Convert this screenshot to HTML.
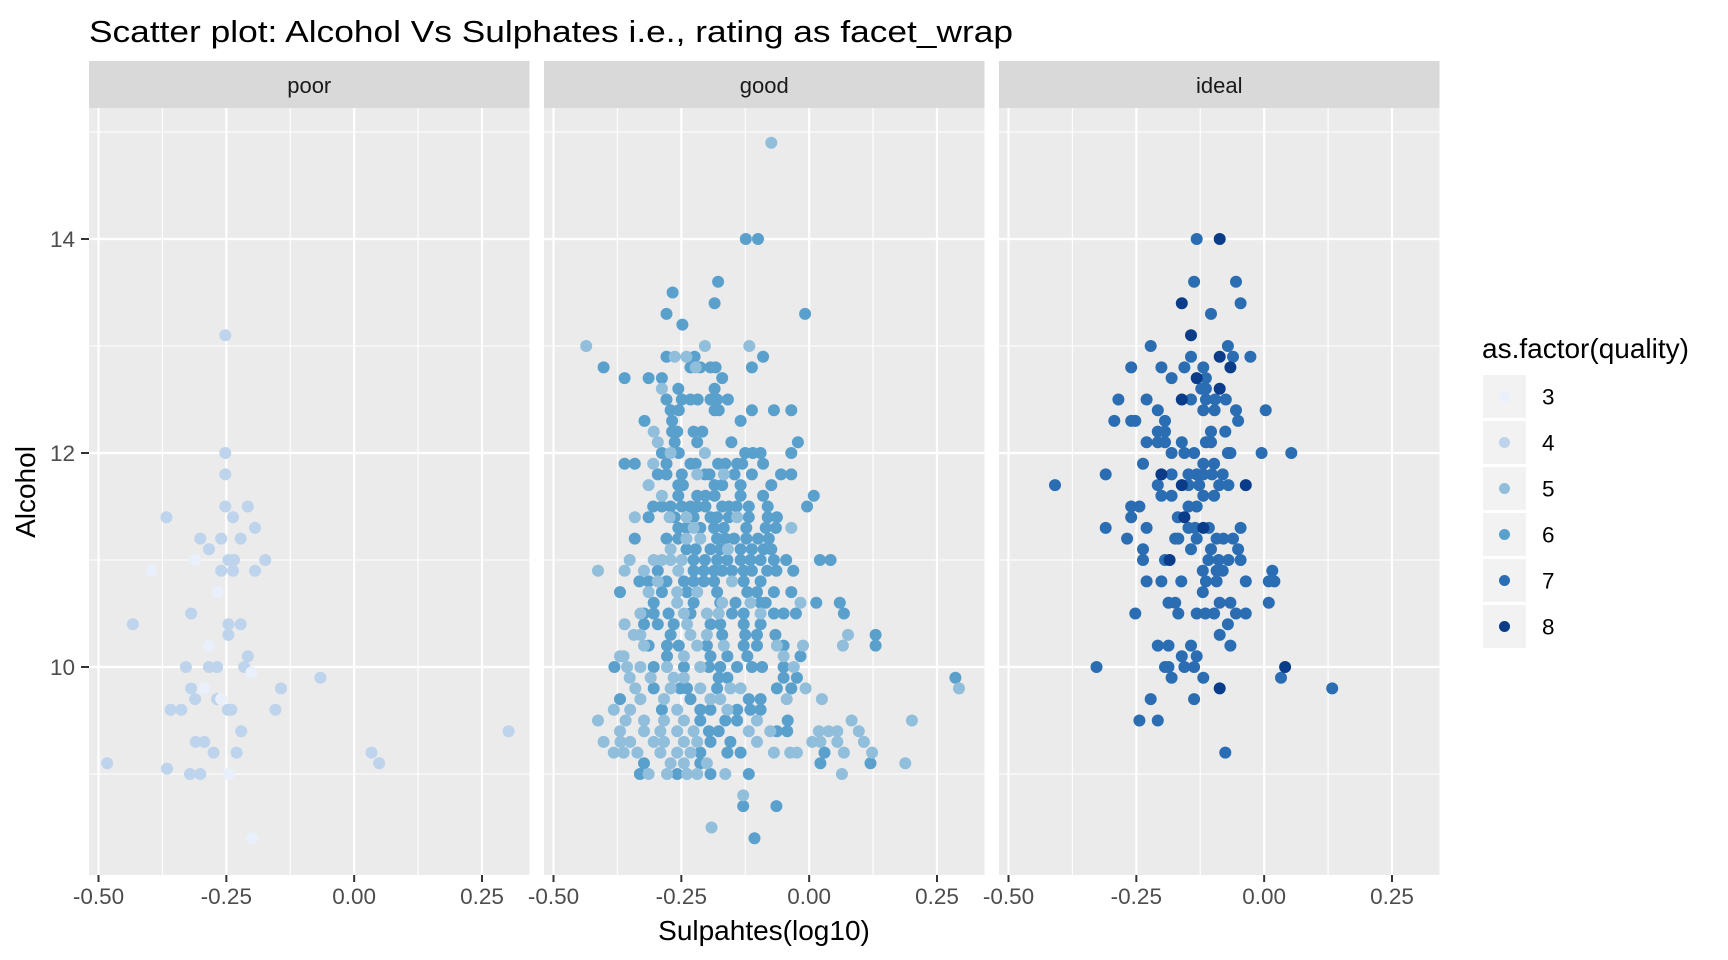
<!DOCTYPE html>
<html>
<head>
<meta charset="utf-8">
<style>
  html,body{margin:0;padding:0;background:#fff;}
  svg{display:block;font-family:"Liberation Sans",Arial,sans-serif;}
</style>
</head>
<body>
<svg id="chart" width="1728" height="960" viewBox="0 0 1728 960" xmlns="http://www.w3.org/2000/svg">
  <text x="89" y="42" font-size="31" fill="#000" textLength="924" lengthAdjust="spacingAndGlyphs">Scatter plot: Alcohol Vs Sulphates i.e., rating as facet_wrap</text>
  <g id="panels"></g>
  <text x="764" y="940" font-size="28" text-anchor="middle" fill="#000">Sulpahtes(log10)</text>
  <text x="0" y="0" font-size="28" text-anchor="middle" fill="#000" transform="translate(35,492) rotate(-90)">Alcohol</text>
  <g id="legend">
    <text x="1482" y="358" font-size="28" fill="#000">as.factor(quality)</text>
  </g>
</svg>
<script>
// ---- data ----
const facetNames = ["poor", "good", "ideal"];
const qualityLevels = ["3", "4", "5", "6", "7", "8"];
const xTickValues = [-0.5, -0.25, 0, 0.25];
const xTickLabels = ["-0.50", "-0.25", "0.00", "0.25"];
const xMinorValues = [-0.375, -0.125, 0.125];
const yTickValues = [10, 12, 14];
const yTickLabels = ["10", "12", "14"];
const yMinorValues = [9, 11, 13, 15];

const poorQ3 = [[-0.311,11.0],[-0.397,10.9],[-0.268,10.7],[-0.284,10.2],[-0.201,9.95],[-0.293,9.8],[-0.260,9.7],[-0.245,9.0],[-0.200,8.4]];
const poorQ4 = [[-0.252,13.1],[-0.252,12.0],[-0.252,11.8],[-0.252,11.5],[-0.208,11.5],[-0.367,11.4],[-0.237,11.4],[-0.194,11.3],[-0.301,11.2],[-0.260,11.2],[-0.222,11.2],[-0.284,11.1],[-0.246,11.0],[-0.235,11.0],[-0.174,11.0],[-0.260,10.9],[-0.237,10.9],[-0.194,10.9],[-0.319,10.5],[-0.433,10.4],[-0.246,10.4],[-0.222,10.4],[-0.246,10.3],[-0.208,10.1],[-0.329,10.0],[-0.284,10.0],[-0.268,10.0],[-0.215,10.0],[-0.066,9.9],[-0.319,9.8],[-0.143,9.8],[-0.311,9.7],[-0.268,9.7],[-0.247,9.6],[-0.240,9.6],[-0.359,9.6],[-0.338,9.6],[-0.154,9.6],[-0.221,9.4],[-0.310,9.3],[-0.293,9.3],[-0.275,9.2],[-0.230,9.2],[-0.483,9.1],[-0.366,9.05],[-0.321,9.0],[-0.301,9.0],[0.034,9.2],[0.049,9.1],[0.302,9.4]];

const goodQ6 = [[-0.124,14.0],[-0.100,14.0],[-0.178,13.6],[-0.267,13.5],[-0.185,13.4],[-0.279,13.3],[-0.008,13.3],[-0.248,13.2],
[-0.279,12.9],[-0.224,12.9],[-0.090,12.9],
[-0.402,12.8],[-0.232,12.8],[-0.213,12.8],[-0.193,12.8],[-0.183,12.8],[-0.112,12.8],
[-0.361,12.7],[-0.314,12.7],[-0.288,12.7],[-0.170,12.7],
[-0.256,12.6],[-0.185,12.6],
[-0.279,12.5],[-0.249,12.5],[-0.232,12.5],[-0.218,12.5],[-0.193,12.5],[-0.180,12.5],[-0.159,12.5],
[-0.271,12.4],[-0.255,12.4],[-0.185,12.4],[-0.177,12.4],[-0.112,12.4],[-0.069,12.4],[-0.035,12.4],
[-0.322,12.3],[-0.268,12.3],[-0.134,12.3],
[-0.268,12.2],[-0.258,12.2],[-0.226,12.2],[-0.209,12.2],
[-0.263,12.1],[-0.219,12.1],[-0.152,12.1],[-0.022,12.1],
[-0.288,12.0],[-0.255,12.0],[-0.125,12.0],[-0.110,12.0],[-0.095,12.0],[-0.035,12.0],
[-0.361,11.9],[-0.341,11.9],[-0.279,11.9],[-0.232,11.9],[-0.222,11.9],[-0.178,11.9],[-0.164,11.9],[-0.141,11.9],[-0.131,11.9],[-0.090,11.9],
[-0.296,11.8],[-0.279,11.8],[-0.249,11.8],[-0.204,11.8],[-0.195,11.8],[-0.146,11.8],[-0.112,11.8],[-0.055,11.8],[-0.035,11.8],
[-0.256,11.7],[-0.247,11.7],[-0.185,11.7],[-0.170,11.7],[-0.134,11.7],[-0.074,11.7],
[-0.256,11.6],[-0.219,11.6],[-0.203,11.6],[-0.185,11.6],[-0.134,11.6],[-0.090,11.6],[0.009,11.6],
[-0.305,11.5],[-0.288,11.5],[-0.271,11.5],[-0.249,11.5],[-0.232,11.5],[-0.219,11.5],[-0.203,11.5],[-0.170,11.5],[-0.157,11.5],[-0.142,11.5],[-0.118,11.5],[-0.081,11.5],[-0.004,11.5],
[-0.314,11.4],[-0.263,11.4],[-0.226,11.4],[-0.193,11.4],[-0.180,11.4],[-0.157,11.4],[-0.118,11.4],[-0.081,11.4],[-0.063,11.4],
[-0.256,11.3],[-0.240,11.3],[-0.213,11.3],[-0.186,11.3],[-0.167,11.3],[-0.123,11.3],[-0.085,11.3],[-0.065,11.3],
[-0.341,11.2],[-0.279,11.2],[-0.256,11.2],[-0.180,11.2],[-0.164,11.2],[-0.147,11.2],[-0.123,11.2],[-0.100,11.2],[-0.079,11.2],
[-0.240,11.1],[-0.222,11.1],[-0.193,11.1],[-0.174,11.1],[-0.134,11.1],[-0.112,11.1],[-0.089,11.1],[-0.074,11.1],
[-0.226,11.0],[-0.204,11.0],[-0.180,11.0],[-0.160,11.0],[-0.134,11.0],[-0.115,11.0],[-0.095,11.0],[-0.069,11.0],[-0.045,11.0],[0.021,11.0],[0.042,11.0],
[-0.296,10.9],[-0.226,10.9],[-0.206,10.9],[-0.186,10.9],[-0.170,10.9],[-0.151,10.9],[-0.128,10.9],[-0.112,10.9],[-0.082,10.9],[-0.064,10.9],[-0.031,10.9],
[-0.332,10.8],[-0.314,10.8],[-0.279,10.8],[-0.245,10.8],[-0.226,10.8],[-0.206,10.8],[-0.186,10.8],[-0.128,10.8],[-0.095,10.8],
[-0.370,10.7],[-0.288,10.7],[-0.239,10.7],[-0.180,10.7],[-0.121,10.7],[-0.102,10.7],[-0.069,10.7],[-0.035,10.7],
[-0.304,10.6],[-0.226,10.6],[-0.174,10.6],[-0.144,10.6],[-0.095,10.6],[-0.085,10.6],[0.014,10.6],[0.060,10.6],
[-0.323,10.5],[-0.304,10.5],[-0.275,10.5],[-0.232,10.5],[-0.151,10.5],[-0.128,10.5],[-0.069,10.5],[-0.050,10.5],[-0.026,10.5],[0.068,10.5],
[-0.323,10.4],[-0.296,10.4],[-0.265,10.4],[-0.193,10.4],[-0.174,10.4],[-0.128,10.4],[-0.095,10.4],
[-0.271,10.3],[-0.170,10.3],[-0.125,10.3],[-0.102,10.3],[-0.066,10.3],[0.130,10.3],
[-0.314,10.2],[-0.278,10.2],[-0.255,10.2],[-0.200,10.2],[-0.128,10.2],[-0.102,10.2],[-0.050,10.2],[0.130,10.2],
[-0.278,10.1],[-0.193,10.1],[-0.160,10.1],[-0.121,10.1],[-0.017,10.1],
[-0.381,10.0],[-0.304,10.0],[-0.245,10.0],[-0.196,10.0],[-0.174,10.0],[-0.141,10.0],[-0.112,10.0],[-0.092,10.0],[-0.050,10.0],
[-0.177,9.9],[-0.160,9.9],[-0.050,9.9],[-0.024,9.9],[0.286,9.9],
[-0.304,9.8],[-0.252,9.8],[-0.239,9.8],[-0.180,9.8],[-0.063,9.8],[-0.035,9.8],
[-0.370,9.7],[-0.232,9.7],[-0.118,9.7],[-0.095,9.7],
[-0.288,9.6],[-0.213,9.6],[-0.193,9.6],[-0.141,9.6],[-0.115,9.6],[-0.095,9.6],
[-0.213,9.5],[-0.164,9.5],[-0.141,9.5],[-0.042,9.5],
[-0.196,9.4],[-0.177,9.4],[-0.063,9.4],[-0.043,9.4],
[-0.193,9.3],[-0.154,9.3],
[-0.213,9.2],[-0.160,9.2],[-0.134,9.2],[0.030,9.2],
[-0.323,9.1],[-0.213,9.1],[0.022,9.1],[0.120,9.1],
[-0.331,9.0],[-0.258,9.0],[-0.193,9.0],[-0.118,9.0],
[-0.129,8.7],[-0.064,8.7],[-0.107,8.4]];

const goodQ5 = [[-0.074,14.9],
[-0.436,13.0],[-0.204,13.0],[-0.117,13.0],
[-0.263,12.9],[-0.240,12.9],[-0.222,12.8],[-0.288,12.6],[-0.304,12.2],[-0.296,12.1],[-0.271,12.0],[-0.204,12.0],[-0.305,11.9],
[-0.219,11.8],[-0.167,11.8],[-0.314,11.7],[-0.288,11.6],[-0.341,11.4],[-0.273,11.4],[-0.240,11.4],[-0.141,11.4],
[-0.226,11.3],[-0.035,11.3],[-0.240,11.2],[-0.213,11.2],[-0.271,11.1],[-0.159,11.1],
[-0.351,11.0],[-0.304,11.0],[-0.288,11.0],[-0.271,11.0],[-0.249,11.0],
[-0.413,10.9],[-0.361,10.9],[-0.323,10.9],[-0.256,10.9],[-0.296,10.8],[-0.151,10.8],
[-0.314,10.7],[-0.258,10.7],[-0.219,10.7],
[-0.258,10.6],[-0.170,10.6],[-0.115,10.6],[-0.017,10.6],
[-0.330,10.5],[-0.245,10.5],[-0.200,10.5],[-0.177,10.5],[-0.095,10.5],
[-0.361,10.4],[-0.239,10.4],
[-0.343,10.3],[-0.330,10.3],[-0.232,10.3],[-0.200,10.3],[0.076,10.3],
[-0.323,10.2],[-0.219,10.2],[-0.167,10.2],[-0.063,10.2],[-0.012,10.2],[0.066,10.2],
[-0.370,10.1],[-0.363,10.1],[-0.245,10.1],[-0.050,10.1],
[-0.356,10.0],[-0.330,10.0],[-0.278,10.0],[-0.213,10.0],[-0.030,10.0],
[-0.351,9.9],[-0.310,9.9],[-0.265,9.9],[-0.245,9.9],
[-0.340,9.8],[-0.271,9.8],[-0.213,9.8],[-0.154,9.8],[-0.134,9.8],[-0.007,9.8],[0.293,9.8],
[-0.330,9.7],[-0.284,9.7],[-0.193,9.7],[-0.174,9.7],[-0.044,9.7],[0.025,9.7],
[-0.382,9.6],[-0.350,9.6],[-0.258,9.6],[-0.160,9.6],
[-0.413,9.5],[-0.359,9.5],[-0.323,9.5],[-0.284,9.5],[-0.245,9.5],[-0.102,9.5],[0.083,9.5],[0.201,9.5],
[-0.370,9.4],[-0.323,9.4],[-0.291,9.4],[-0.258,9.4],[-0.226,9.4],[-0.118,9.4],[-0.076,9.4],[0.019,9.4],[0.038,9.4],[0.055,9.4],[0.097,9.4],
[-0.402,9.3],[-0.369,9.3],[-0.350,9.3],[-0.304,9.3],[-0.284,9.3],[-0.245,9.3],[-0.219,9.3],[-0.102,9.3],[0.006,9.3],[0.022,9.3],[0.055,9.3],[0.107,9.3],
[-0.382,9.2],[-0.363,9.2],[-0.336,9.2],[-0.291,9.2],[-0.258,9.2],[-0.232,9.2],[-0.069,9.2],[-0.037,9.2],[-0.024,9.2],[0.068,9.2],[0.123,9.2],
[-0.271,9.1],[-0.245,9.1],[-0.200,9.1],[0.188,9.1],
[-0.314,9.0],[-0.278,9.0],[-0.239,9.0],[-0.219,9.0],[-0.164,9.0],[0.064,9.0],
[-0.129,8.8],[-0.191,8.5]];

const idealQ7 = [[-0.132,14.0],[-0.137,13.6],[-0.055,13.6],[-0.046,13.4],[-0.104,13.3],
[-0.222,13.0],[-0.071,13.0],
[-0.143,12.9],[-0.061,12.9],[-0.027,12.9],
[-0.260,12.8],[-0.201,12.8],[-0.156,12.8],[-0.119,12.8],
[-0.181,12.7],[-0.114,12.7],
[-0.123,12.6],[-0.114,12.6],
[-0.285,12.5],[-0.230,12.5],[-0.143,12.5],[-0.114,12.5],[-0.096,12.5],[-0.075,12.5],
[-0.208,12.4],[-0.119,12.4],[-0.097,12.4],[-0.055,12.4],[0.003,12.4],
[-0.293,12.3],[-0.260,12.3],[-0.252,12.3],[-0.194,12.3],[-0.051,12.3],
[-0.208,12.2],[-0.194,12.2],[-0.104,12.2],[-0.076,12.2],
[-0.230,12.1],[-0.208,12.1],[-0.194,12.1],[-0.161,12.1],[-0.114,12.1],[-0.104,12.1],
[-0.181,12.0],[-0.156,12.0],[-0.137,12.0],[-0.071,12.0],[-0.066,12.0],[-0.005,12.0],[0.053,12.0],
[-0.237,11.9],[-0.119,11.9],[-0.098,11.9],
[-0.310,11.8],[-0.181,11.8],[-0.148,11.8],[-0.132,11.8],[-0.119,11.8],[-0.102,11.8],[-0.081,11.8],
[-0.409,11.7],[-0.208,11.7],[-0.148,11.7],[-0.127,11.7],[-0.088,11.7],[-0.070,11.7],
[-0.201,11.6],[-0.181,11.6],[-0.119,11.6],[-0.098,11.6],
[-0.260,11.5],[-0.244,11.5],[-0.148,11.5],[-0.132,11.5],
[-0.260,11.4],[-0.169,11.4],
[-0.310,11.3],[-0.230,11.3],[-0.148,11.3],[-0.135,11.3],[-0.108,11.3],[-0.046,11.3],
[-0.268,11.2],[-0.174,11.2],[-0.168,11.2],[-0.132,11.2],[-0.093,11.2],[-0.080,11.2],[-0.061,11.2],
[-0.237,11.1],[-0.143,11.1],[-0.104,11.1],[-0.051,11.1],
[-0.237,11.0],[-0.194,11.0],[-0.109,11.0],[-0.089,11.0],[-0.070,11.0],[-0.046,11.0],
[-0.120,10.9],[-0.093,10.9],[-0.081,10.9],[0.016,10.9],
[-0.230,10.8],[-0.201,10.8],[-0.162,10.8],[-0.114,10.8],[-0.093,10.8],[-0.036,10.8],[0.009,10.8],[0.020,10.8],
[-0.120,10.7],
[-0.187,10.6],[-0.174,10.6],[-0.087,10.6],[-0.066,10.6],[0.009,10.6],
[-0.252,10.5],[-0.168,10.5],[-0.132,10.5],[-0.115,10.5],[-0.098,10.5],[-0.055,10.5],[-0.036,10.5],
[-0.071,10.4],[-0.087,10.3],
[-0.208,10.2],[-0.187,10.2],[-0.143,10.2],[-0.066,10.2],
[-0.161,10.1],[-0.132,10.1],
[-0.328,10.0],[-0.194,10.0],[-0.187,10.0],[-0.156,10.0],[-0.137,10.0],
[-0.181,9.9],[-0.119,9.9],[0.033,9.9],
[0.133,9.8],[-0.222,9.7],[-0.137,9.7],
[-0.244,9.5],[-0.208,9.5],[-0.076,9.2]];

const idealQ8 = [[-0.087,14.0],[-0.161,13.4],[-0.143,13.1],[-0.087,12.9],[-0.066,12.8],[-0.132,12.7],[-0.087,12.6],[-0.161,12.5],
[-0.201,11.8],[-0.161,11.7],[-0.036,11.7],[-0.156,11.4],[-0.119,11.3],[-0.185,11.0],[0.041,10.0],[-0.087,9.8]];

// ---- styling (not data) ----
const qualityColors = {"3":"#eaf0fb","4":"#bed3ec","5":"#91bedb","6":"#5aa0cd","7":"#2a6db2","8":"#0b3c8a"};
const panelLefts = [89, 544, 999];
const panelW = 440.5, panelTop = 108, panelBottom = 875, stripTop = 61;
const xMin = -0.5186, pxPerX = 511.3;
const y0 = 667, pxPerY = 107;

const NS = "http://www.w3.org/2000/svg";
function mk(tag, attrs, parent) {
  const el = document.createElementNS(NS, tag);
  for (const k in attrs) el.setAttribute(k, attrs[k]);
  parent.appendChild(el);
  return el;
}
function xScale(panel, v) { return panelLefts[panel] + (v - xMin) * pxPerX; }
function yScale(v) { return y0 - (v - 10) * pxPerY; }

const panelsG = document.getElementById('panels');
const panelSeries = [
  [[poorQ4, "4"], [poorQ3, "3"]],
  [[goodQ6, "6"], [goodQ5, "5"]],
  [[idealQ7, "7"], [idealQ8, "8"]]
];

facetNames.forEach((name, p) => {
  const L = panelLefts[p];
  const g = mk('g', {}, panelsG);
  
  
  const bg = mk('rect', {x: L, y: panelTop, width: panelW, height: panelBottom - panelTop, fill: '#ebebeb'}, g);
  
  
  const clipId = 'clip' + p;
  const cp = mk('clipPath', {id: clipId}, g);
  mk('rect', {x: L, y: panelTop, width: panelW, height: panelBottom - panelTop}, cp);
  const grid = mk('g', {'clip-path': 'url(#' + clipId + ')'}, g);
  
  
  yMinorValues.forEach(v => {
    const ln = mk('line', {x1: L, x2: L + panelW, y1: yScale(v), y2: yScale(v), stroke: '#fff', 'stroke-width': 1.1}, grid);
    
    
  });
  xMinorValues.forEach(v => {
    const ln = mk('line', {x1: xScale(p, v), x2: xScale(p, v), y1: panelTop, y2: panelBottom, stroke: '#fff', 'stroke-width': 1.1}, grid);
    
    
  });
  yTickValues.forEach(v => {
    const ln = mk('line', {x1: L, x2: L + panelW, y1: yScale(v), y2: yScale(v), stroke: '#fff', 'stroke-width': 2.2}, grid);
    
    
  });
  xTickValues.forEach(v => {
    const ln = mk('line', {x1: xScale(p, v), x2: xScale(p, v), y1: panelTop, y2: panelBottom, stroke: '#fff', 'stroke-width': 2.2}, grid);
    
    
  });
  const st = mk('rect', {x: L, y: stripTop, width: panelW, height: panelTop - stripTop, fill: '#d9d9d9'}, g);
  
  
  const stt = mk('text', {x: L + panelW / 2, y: 93, 'font-size': 22, 'text-anchor': 'middle', fill: '#1a1a1a'}, g);
  stt.textContent = name;
  
  
  const pts = mk('g', {'clip-path': 'url(#' + clipId + ')'}, g);
  
  
  panelSeries[p].forEach(([arr, q]) => {
    arr.forEach(d => {
      const c = mk('circle', {cx: xScale(p, d[0]).toFixed(1), cy: yScale(d[1]).toFixed(1), r: 6, fill: qualityColors[q]}, pts);
      
      
    });
  });
  xTickValues.forEach((v, i) => {
    const x = xScale(p, v);
    const t = mk('line', {x1: x, x2: x, y1: panelBottom, y2: panelBottom + 7, stroke: '#333', 'stroke-width': 2}, g);
    
    
    const lb = mk('text', {x: x, y: 904, 'font-size': 22.5, 'text-anchor': 'middle', fill: '#4d4d4d'}, g);
    lb.textContent = xTickLabels[i];
    
    
  });
});

yTickValues.forEach((v, i) => {
  const y = yScale(v);
  const t = mk('line', {x1: 81, x2: 89, y1: y, y2: y, stroke: '#333', 'stroke-width': 2}, panelsG);
  
  
  const lb = mk('text', {x: 75, y: y + 8, 'font-size': 22.5, 'text-anchor': 'end', fill: '#4d4d4d'}, panelsG);
  lb.textContent = yTickLabels[i];
  
  
});

const legendG = document.getElementById('legend');
qualityLevels.forEach((q, i) => {
  const top = 375 + i * 46;
  const g = mk('g', {}, legendG);
  
  
  mk('rect', {x: 1483, y: top, width: 43, height: 43, fill: '#f2f2f2'}, g);
  mk('circle', {cx: 1504.5, cy: top + 21.5, r: 5.5, fill: qualityColors[q]}, g);
  const t = mk('text', {x: 1542, y: top + 29.5, 'font-size': 22.5, fill: '#000'}, g);
  t.textContent = q;
});
</script>
</body>
</html>
